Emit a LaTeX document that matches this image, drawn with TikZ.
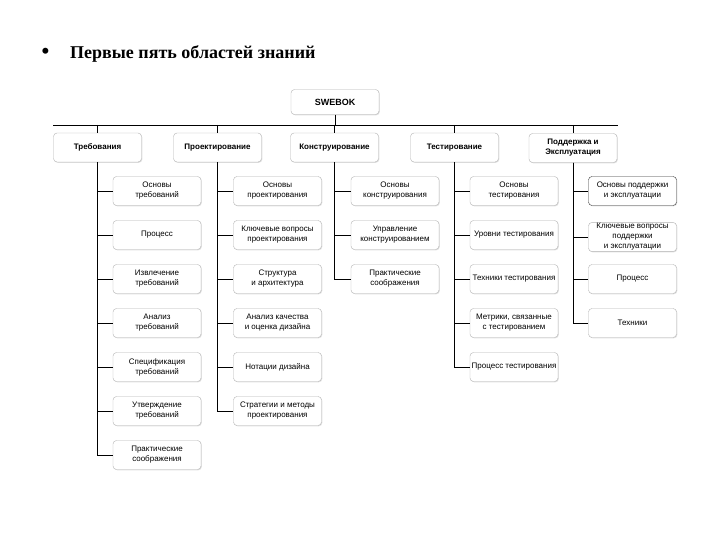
\documentclass[tikz,border=0pt]{standalone}
\usepackage{fontspec}
\setmainfont{Liberation Serif}
\setsansfont{Liberation Sans}
\usetikzlibrary{positioning, shadows}

\tikzset{
  box/.style={draw=gray!60, rounded corners=3.5pt, fill=white,
    drop shadow={shadow xshift=0.8pt, shadow yshift=-0.8pt, opacity=0.25},
    minimum width=88pt, minimum height=29pt, align=center, inner sep=1pt,
    font=\sffamily\fontsize{8}{10}\selectfont},
  topbox/.style={box, font=\sffamily\bfseries\fontsize{8}{10}\selectfont},
  link/.style={draw, line width=0.7pt},
}

\begin{document}
\begin{tikzpicture}[x=1pt, y=-1pt, node distance=44pt, on grid]
    \useasboundingbox (0,0) rectangle (720,540);

    % title
    \node[inner sep=0pt] (bullet) at (45.5,53) {\fontsize{22}{24}\selectfont\bfseries •};
    \node[anchor=base west, inner sep=0pt] (title) at (70,59) {\fontsize{18}{20}\selectfont\bfseries Первые пять областей знаний};

    % root and first level
    \node[topbox, minimum height=25pt, font=\sffamily\bfseries\fontsize{9}{10}\selectfont] (swebok) at (335,102) {SWEBOK};

    \node[topbox] (req) at (97.5,147.5) {Требования};
    \node[topbox] (des) at (217.5,147.5) {Проектирование};
    \node[topbox] (con) at (334.5,147.5) {Конструирование};
    \node[topbox] (tst) at (454.5,147.5) {Тестирование};
    \node[topbox] (mnt) at (573,148) {Поддержка и\\Эксплуатация};

    \coordinate (busL) at (53,125);
    \coordinate (busR) at (618,125);
    \draw[link] (swebok) -- (swebok.south |- busL);
    \draw[link] (busL) -- (busR);
    \draw[link] (req.north |- busL) -- (req);
    \draw[link] (des.north |- busL) -- (des);
    \draw[link] (con.north |- busL) -- (con);
    \draw[link] (tst.north |- busL) -- (tst);
    \draw[link] (mnt.north |- busL) -- (mnt);

    % requirements
    \node[box] (req1) at (157,191) {Основы\\требований};
    \node[box, below=of req1] (req2) {Процесс};
    \node[box, below=of req2] (req3) {Извлечение\\требований};
    \node[box, below=of req3] (req4) {Анализ\\требований};
    \node[box, below=of req4] (req5) {Спецификация\\требований};
    \node[box, below=of req5] (req6) {Утверждение\\требований};
    \node[box, below=of req6] (req7) {Практические\\соображения};

    \draw[link] (req.south) |- (req1.west);
    \draw[link] (req.south) |- (req2.west);
    \draw[link] (req.south) |- (req3.west);
    \draw[link] (req.south) |- (req4.west);
    \draw[link] (req.south) |- (req5.west);
    \draw[link] (req.south) |- (req6.west);
    \draw[link] (req.south) |- (req7.west);

    % design
    \node[box] (des1) at (277.5,191) {Основы\\проектирования};
    \node[box, below=of des1] (des2) {Ключевые вопросы\\проектирования};
    \node[box, below=of des2] (des3) {Структура\\и архитектура};
    \node[box, below=of des3] (des4) {Анализ качества\\и оценка дизайна};
    \node[box, below=of des4] (des5) {Нотации дизайна};
    \node[box, below=of des5] (des6) {Стратегии и методы\\проектирования};

    \draw[link] (des.south) |- (des1.west);
    \draw[link] (des.south) |- (des2.west);
    \draw[link] (des.south) |- (des3.west);
    \draw[link] (des.south) |- (des4.west);
    \draw[link] (des.south) |- (des5.west);
    \draw[link] (des.south) |- (des6.west);

    % construction
    \node[box] (con1) at (395,191) {Основы\\конструирования};
    \node[box, below=of con1] (con2) {Управление\\конструированием};
    \node[box, below=of con2] (con3) {Практические\\соображения};

    \draw[link] (con.south) |- (con1.west);
    \draw[link] (con.south) |- (con2.west);
    \draw[link] (con.south) |- (con3.west);

    % testing
    \node[box] (tst1) at (514,191) {Основы\\тестирования};
    \node[box, below=of tst1] (tst2) {Уровни тестирования};
    \node[box, below=of tst2] (tst3) {Техники тестирования};
    \node[box, below=of tst3] (tst4) {Метрики, связанные\\с тестированием};
    \node[box, below=of tst4] (tst5) {Процесс тестирования};

    \draw[link] (tst.south) |- (tst1.west);
    \draw[link] (tst.south) |- (tst2.west);
    \draw[link] (tst.south) |- (tst3.west);
    \draw[link] (tst.south) |- (tst4.west);
    \draw[link] (tst.south) |- (tst5.west);

    % maintenance
    \node[box, draw=black!80] (mnt1) at (632.5,191) {Основы поддержки\\и эксплуатации};
    \node[box, below=of mnt1, yshift=-2pt] (mnt2) {Ключевые вопросы\\поддержки\\и эксплуатации};
    \node[box, below=88pt of mnt1] (mnt3) {Процесс};
    \node[box, below=of mnt3] (mnt4) {Техники};

    \draw[link] (mnt.south) |- (mnt1.west);
    \draw[link] (mnt.south) |- (mnt2.west);
    \draw[link] (mnt.south) |- (mnt3.west);
    \draw[link] (mnt.south) |- (mnt4.west);
\end{tikzpicture}
\end{document}
